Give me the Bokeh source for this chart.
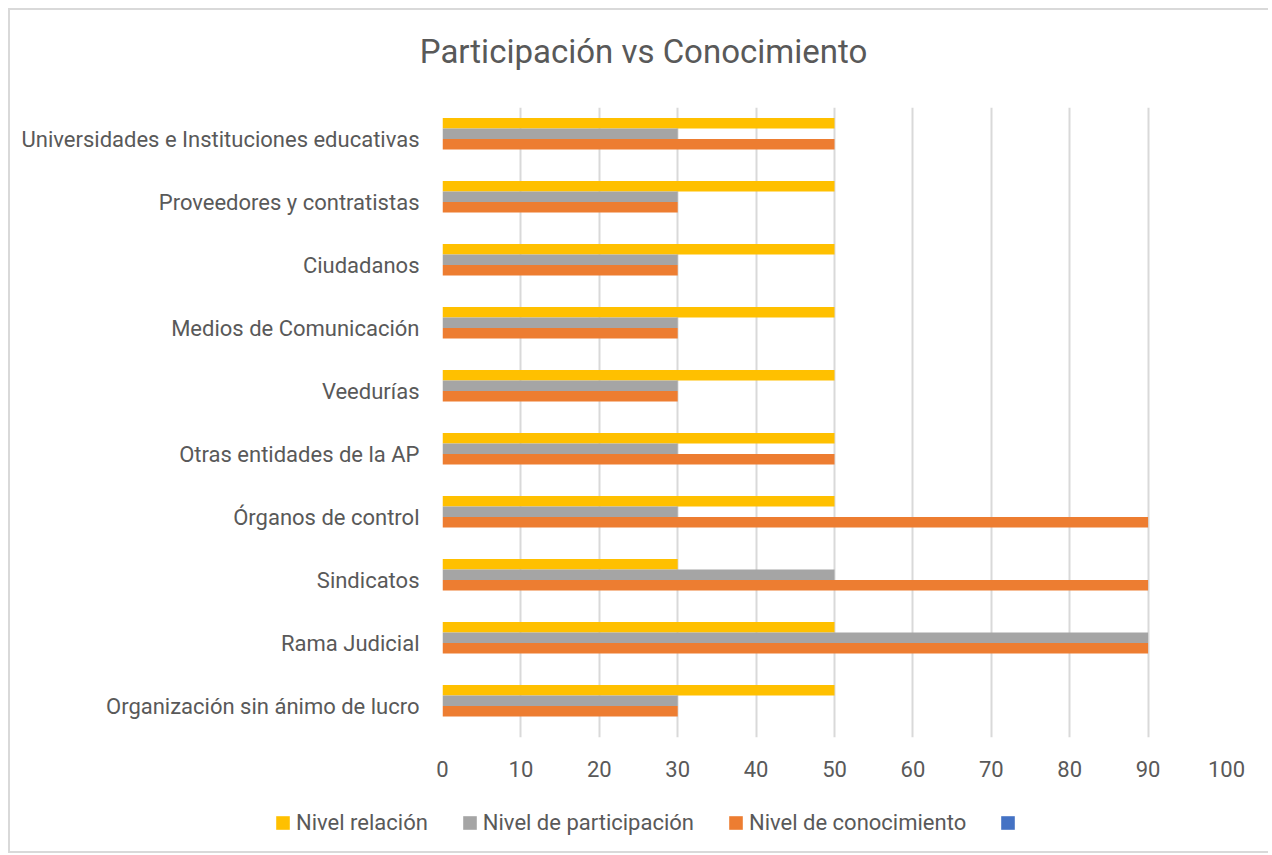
from bokeh.plotting import figure
from bokeh.models import (FactorRange, Legend, LegendItem, ColumnDataSource,
                          FixedTicker, Range1d, Label)
from bokeh.transform import dodge
from bokeh.embed import file_html
from bokeh.resources import INLINE

titulo = "Participación vs Conocimiento"
categorias = [
    "Organización sin ánimo de lucro",
    "Rama Judicial",
    "Sindicatos",
    "Órganos de control",
    "Otras entidades de la AP",
    "Veedurías",
    "Medios de Comunicación",
    "Ciudadanos",
    "Proveedores y contratistas",
    "Universidades e Instituciones educativas",
]
nivel_relacion = [50, 50, 30, 50, 50, 50, 50, 50, 50, 50]
nivel_participacion = [30, 90, 50, 30, 30, 30, 30, 30, 30, 30]
nivel_conocimiento = [30, 90, 90, 90, 50, 30, 30, 30, 30, 50]
series_nombres = ["Nivel relación", "Nivel de participación", "Nivel de conocimiento", "\u00a0"]
ticks_x = [0, 10, 20, 30, 40, 50, 60, 70, 80, 90, 100]

FONT = "Roboto"
TXT = "#595959"
GRID = "#d9d9d9"
BORDER = "2px solid #d9d9d9"
colores = ["#FFC000", "#A5A5A5", "#ED7D31", "#4472C4"]

W = 1258

# ---- title strip ----
tf = figure(width=W, height=80, x_range=Range1d(0, 1), y_range=Range1d(0, 1),
            output_backend="svg", toolbar_location=None,
            x_axis_location=None, y_axis_location=None,
            min_border_left=0, min_border_right=0, min_border_top=0,
            min_border_bottom=0)
tf.title = None
tf.styles = {"margin": "8px 0 0 8px", "border-top": BORDER, "border-left": BORDER,
             "box-sizing": "content-box"}
tf.grid.visible = False
tf.outline_line_color = None
tf.add_layout(Label(x=0.5, y=0.5, text=titulo, x_offset=3,
                    text_align="center", text_baseline="middle",
                    text_font=FONT, text_font_size="33px", text_color=TXT))

# ---- main chart ----
src = ColumnDataSource(dict(cat=categorias, rel=nivel_relacion,
                            par=nivel_participacion, con=nivel_conocimiento))

p = figure(width=W, height=710, y_range=FactorRange(factors=categorias),
           x_range=(0, 100), output_backend="svg", toolbar_location=None,
           min_border_left=432, min_border_right=44, min_border_top=17,
           min_border_bottom=63)
p.title = None
p.y_range.range_padding = 0
p.styles = {"margin": "0 0 0 8px", "border-left": BORDER, "box-sizing": "content-box"}

h = 1 / 6
p.hbar(y=dodge("cat", 0.25, range=p.y_range), left=0, right="rel", height=h,
       source=src, fill_color=colores[0], line_color=None)
p.hbar(y=dodge("cat", 1 / 12, range=p.y_range), left=0, right="par", height=h,
       source=src, fill_color=colores[1], line_color=None)
p.hbar(y=dodge("cat", -1 / 12, range=p.y_range), left=0, right="con", height=h,
       source=src, fill_color=colores[2], line_color=None)

p.xaxis.ticker = FixedTicker(ticks=ticks_x)
p.xaxis.axis_line_color = None
p.xaxis.major_tick_line_color = None
p.xaxis.major_tick_out = 0
p.xaxis.minor_tick_line_color = None
p.xaxis.minor_tick_out = 0
p.xaxis.major_label_standoff = 23
p.xaxis.major_label_text_font = FONT
p.xaxis.major_label_text_font_size = "22px"
p.xaxis.major_label_text_color = TXT

p.yaxis.axis_line_color = None
p.yaxis.major_tick_line_color = None
p.yaxis.major_tick_out = 0
p.yaxis.minor_tick_line_color = None
p.yaxis.minor_tick_out = 0
p.yaxis.major_label_standoff = 23
p.yaxis.major_label_text_font = FONT
p.yaxis.major_label_text_font_size = "22px"
p.yaxis.major_label_text_color = TXT

p.ygrid.grid_line_color = None
p.xgrid.grid_line_color = GRID
p.xgrid.grid_line_width = 2
p.outline_line_color = None

# ---- legend strip ----
lf = figure(width=W, height=51, x_range=Range1d(0, 1), y_range=Range1d(0, 1),
            output_backend="svg", toolbar_location=None,
            x_axis_location=None, y_axis_location=None,
            min_border_left=0, min_border_right=0, min_border_top=0,
            min_border_bottom=0)
lf.title = None
lf.styles = {"margin": "0 0 0 8px", "border-left": BORDER, "border-bottom": BORDER,
             "box-sizing": "content-box"}
lf.grid.visible = False
lf.outline_line_color = None
proxy = ColumnDataSource(dict(y=[0.5], l=[0.0], r=[0.0]))
leg_r = [lf.hbar(y="y", left="l", right="r", height=0.1, source=proxy,
                 fill_color=c, line_color=None) for c in colores]
legend = Legend(items=[LegendItem(label=n, renderers=[r]) for n, r in
                       zip(series_nombres, leg_r)],
                orientation="horizontal", location=(264, 18),
                glyph_width=17, glyph_height=17, label_standoff=5, spacing=33,
                border_line_color=None, background_fill_alpha=0, margin=0, padding=0,
                label_text_font=FONT, label_text_font_size="22px",
                label_text_color=TXT)
lf.add_layout(legend, "center")

open("out.html", "w").write(file_html([tf, p, lf], INLINE))
